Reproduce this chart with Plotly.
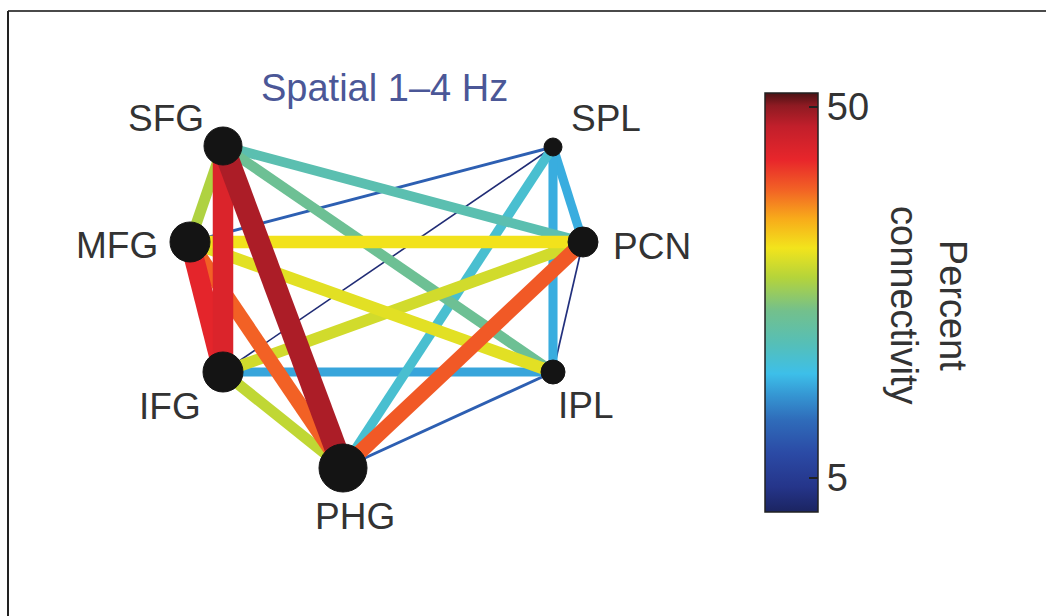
import numpy as np
import plotly.graph_objects as go
from plotly.colors import sample_colorscale

# Regions of interest and their node sizes (marker diameter, px)
nodes = ["SFG", "MFG", "IFG", "PHG", "SPL", "PCN", "IPL"]
node_sizes = [38, 40, 40, 48, 18, 30, 24]

# Circular-ish layout of the network (canvas coordinates, y grows downwards)
node_xy = {
    "SFG": (223, 146), "MFG": (190, 242), "IFG": (223, 372), "PHG": (343, 468),
    "SPL": (553, 147), "PCN": (583, 242), "IPL": (553, 372),
}
# Label anchor points for each region name
label_xy = {
    "SFG": (166, 118), "MFG": (117, 245), "IFG": (170, 406), "PHG": (355, 516),
    "SPL": (606, 118), "PCN": (652, 246), "IPL": (586, 405),
}

# Connections and their percent connectivity
edge_src = ["SFG", "SFG", "SFG", "SFG", "SFG", "MFG", "MFG", "MFG", "MFG", "MFG",
            "IFG", "IFG", "IFG", "IFG", "PHG", "PHG", "PHG", "SPL", "SPL", "PCN"]
edge_dst = ["MFG", "IFG", "PHG", "PCN", "IPL", "IFG", "PHG", "SPL", "PCN", "IPL",
            "PHG", "SPL", "PCN", "IPL", "SPL", "PCN", "IPL", "PCN", "IPL", "IPL"]
connectivity = [29, 45, 48.7, 22, 24.5, 44, 40, 10.5, 33, 32,
                30, 2.4, 31, 16, 19.5, 40.5, 10.5, 16.5, 16.5, 3]

cbar_ticks = [5, 50]
cmin, cmax = 0.9, 51.7

jet_like = [
    [0.00, "#1b2461"], [0.06, "#25358a"], [0.14, "#2b4aa5"], [0.22, "#2f6cba"],
    [0.28, "#3597d3"], [0.33, "#3dbfe9"], [0.40, "#55bfb8"], [0.48, "#73c08c"],
    [0.56, "#b5d43a"], [0.63, "#f2e41c"], [0.70, "#f8ab1a"], [0.77, "#f26125"],
    [0.84, "#e8262b"], [0.92, "#c21f2b"], [0.97, "#8e1a22"], [1.00, "#4a1214"],
]

FONT = "Liberation Sans, Arial, Helvetica, sans-serif"
TXT = "#333333"


def edge_width(v):
    return float(np.interp(v, [0, 12, 16, 30, 34, 41, 44, 50],
                           [1.2, 3.2, 9, 11, 13, 15, 20, 23]))


fig = go.Figure()

# Edges, weakest first so strong links sit on top
order = np.argsort(connectivity, kind="stable")
for i in order:
    v = connectivity[i]
    a, b = node_xy[edge_src[i]], node_xy[edge_dst[i]]
    col = sample_colorscale(jet_like, [(v - cmin) / (cmax - cmin)])[0]
    fig.add_trace(go.Scatter(
        x=[a[0], b[0]], y=[a[1], b[1]], mode="lines",
        line=dict(color=col, width=edge_width(v)),
        hoverinfo="skip", showlegend=False,
    ))

# Nodes
fig.add_trace(go.Scatter(
    x=[node_xy[n][0] for n in nodes], y=[node_xy[n][1] for n in nodes],
    mode="markers", opacity=1,
    marker=dict(size=node_sizes, color="#141414", opacity=1,
                line=dict(width=1, color="#141414")),
    text=nodes, hoverinfo="text", showlegend=False,
))

# Colour scale bar
fig.add_trace(go.Scatter(
    x=[-100] * len(connectivity), y=[-100] * len(connectivity), mode="markers",
    marker=dict(
        color=connectivity, colorscale=jet_like, cmin=cmin, cmax=cmax, size=1,
        showscale=True,
        colorbar=dict(
            x=765 / 1046, xanchor="left", xpad=0,
            y=1 - 302.5 / 616, yanchor="middle", ypad=0,
            lenmode="pixels", len=419, thicknessmode="pixels", thickness=53,
            outlinewidth=1.5, outlinecolor="#222222",
            tickmode="array", tickvals=cbar_ticks, ticktext=[str(t) for t in cbar_ticks],
            ticks="inside", ticklen=9, tickwidth=2, tickcolor="#222222",
            tickfont=dict(family=FONT, size=38, color=TXT),
        ),
    ),
    hoverinfo="skip", showlegend=False,
))

annotations = []
for n in nodes:
    lx, ly = label_xy[n]
    annotations.append(dict(
        x=lx, y=ly, xref="x", yref="y", text=n, showarrow=False,
        font=dict(family=FONT, size=37, color=TXT), xanchor="center", yanchor="middle",
    ))
annotations.append(dict(
    x=384, y=88, xref="x", yref="y", text="Spatial 1–4 Hz", showarrow=False,
    font=dict(family=FONT, size=38, color="#4b5797"), xanchor="center", yanchor="middle",
))
annotations.append(dict(
    x=929, y=305, xref="x", yref="y", text="Percent<br>connectivity", showarrow=False,
    textangle=90, font=dict(family=FONT, size=38, color=TXT),
    xanchor="center", yanchor="middle",
))

fig.update_layout(
    width=1046, height=616,
    margin=dict(l=0, r=0, t=0, b=0),
    paper_bgcolor="white", plot_bgcolor="white",
    xaxis=dict(range=[0, 1046], visible=False, fixedrange=True),
    yaxis=dict(range=[616, 0], visible=False, fixedrange=True),
    annotations=annotations,
    shapes=[
        dict(type="line", xref="x", yref="y", x0=8, y0=11, x1=1046, y1=11,
             line=dict(color="#4a4a4a", width=2)),
        dict(type="line", xref="x", yref="y", x0=8, y0=11, x1=8, y1=616,
             line=dict(color="#222222", width=2)),
    ],
)

fig.write_html("out.html")
